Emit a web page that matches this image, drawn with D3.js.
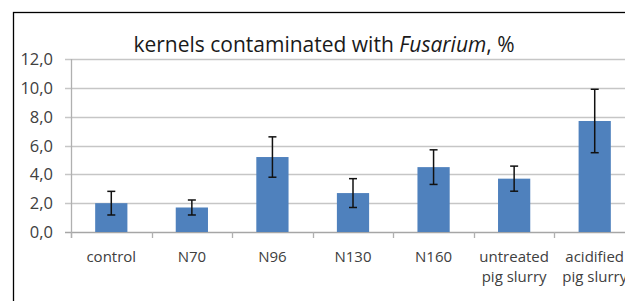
<!DOCTYPE html>
<html>
<head>
<meta charset="utf-8">
<script src="https://cdn.jsdelivr.net/npm/d3@7"></script>
<style>
body { margin: 0; background: #fff; }
svg text { font-family: "Open Sans", "DejaVu Sans", sans-serif; fill: #404040; }
</style>
</head>
<body>
<div class="content"></div>
<script>
var categories = ['control', 'N70', 'N96', 'N130', 'N160', 'untreated\npig slurry', 'acidified\npig slurry'];
var values = [2.0, 1.7, 5.2, 2.7, 4.5, 3.7, 7.7];
var errors = [0.82, 0.52, 1.4, 1.0, 1.2, 0.87, 2.2];
var yTicks = [0, 2, 4, 6, 8, 10, 12];

var W = 625, H = 301;
var svg = d3.select('.content').append('svg')
    .attr('width', W)
    .attr('height', H);

// chart frame, runs off the right and bottom edge
svg.append('rect')
    .attr('x', 13.5)
    .attr('y', 12.5)
    .attr('width', 700)
    .attr('height', 400)
    .attr('fill', 'none')
    .attr('stroke', '#000')
    .attr('stroke-width', 1.3);

var plotLeft = 71, plotRight = 635, plotTop = 59, plotBottom = 232;

var x = d3.scaleBand()
    .domain(categories)
    .range([plotLeft, plotRight])
    .paddingInner(0.6)
    .paddingOuter(0.3);

var y = d3.scaleLinear()
    .domain([0, 12])
    .range([plotBottom, plotTop]);

// grid
svg.append('g')
    .selectAll('line')
    .data(yTicks)
    .enter().append('line')
    .attr('x1', plotLeft - 6)
    .attr('x2', plotRight)
    .attr('y1', function(d) { return Math.round(y(d)) + 0.5; })
    .attr('y2', function(d) { return Math.round(y(d)) + 0.5; })
    .attr('stroke', function(d) { return d === 0 ? '#a6a6a6' : '#c6c6c6'; })
    .attr('stroke-width', 1.3);

svg.append('line')
    .attr('x1', plotLeft + 0.5).attr('x2', plotLeft + 0.5)
    .attr('y1', plotTop).attr('y2', plotBottom + 6)
    .attr('stroke', '#b0b0b0')
    .attr('stroke-width', 1.3);

// y labels
svg.append('g')
    .selectAll('text')
    .data(yTicks)
    .enter().append('text')
    .attr('x', 53)
    .attr('y', function(d) { return y(d) + 6; })
    .attr('text-anchor', 'end')
    .attr('font-size', 16.5)
    .text(function(d) { return d.toFixed(1).replace('.', ','); });

// category ticks
var boundaries = d3.range(categories.length + 1).map(function(i) {
    return plotLeft + i * (plotRight - plotLeft) / categories.length;
});
svg.append('g')
    .selectAll('line')
    .data(boundaries)
    .enter().append('line')
    .attr('x1', function(d) { return Math.round(d) + 0.5; })
    .attr('x2', function(d) { return Math.round(d) + 0.5; })
    .attr('y1', plotBottom)
    .attr('y2', plotBottom + 6)
    .attr('stroke', '#b0b0b0')
    .attr('stroke-width', 1.3);

// bars
svg.append('g')
    .selectAll('rect')
    .data(values)
    .enter().append('rect')
    .attr('x', function(d, i) { return x(categories[i]); })
    .attr('y', function(d) { return y(d); })
    .attr('width', x.bandwidth())
    .attr('height', function(d) { return y(0) - y(d); })
    .attr('fill', '#4f81bd');

// error bars
var eb = svg.append('g').attr('stroke', '#111').attr('stroke-width', 1.5);
values.forEach(function(v, i) {
    var cx = x(categories[i]) + x.bandwidth() / 2;
    var y1 = y(v + errors[i]), y2 = y(v - errors[i]);
    eb.append('line').attr('x1', cx).attr('x2', cx).attr('y1', y1).attr('y2', y2);
    eb.append('line').attr('x1', cx - 4).attr('x2', cx + 4).attr('y1', y1).attr('y2', y1);
    eb.append('line').attr('x1', cx - 4).attr('x2', cx + 4).attr('y1', y2).attr('y2', y2);
});

// category labels, one text per line
categories.forEach(function(c) {
    var cx = x(c) + x.bandwidth() / 2;
    c.split('\n').forEach(function(p, j) {
        svg.append('text')
            .attr('text-anchor', 'middle')
            .attr('font-size', 15)
            .attr('x', cx)
            .attr('y', 262 + j * 20)
            .text(p);
    });
});

// title
var title = svg.append('text')
    .attr('x', 324)
    .attr('y', 52)
    .attr('text-anchor', 'middle')
    .attr('font-size', 21)
    .style('fill', '#1a1a1a');
title.append('tspan').text('kernels contaminated with ');
title.append('tspan').attr('font-style', 'italic').text('Fusarium');
title.append('tspan').text(', %');
</script>
</body>
</html>
